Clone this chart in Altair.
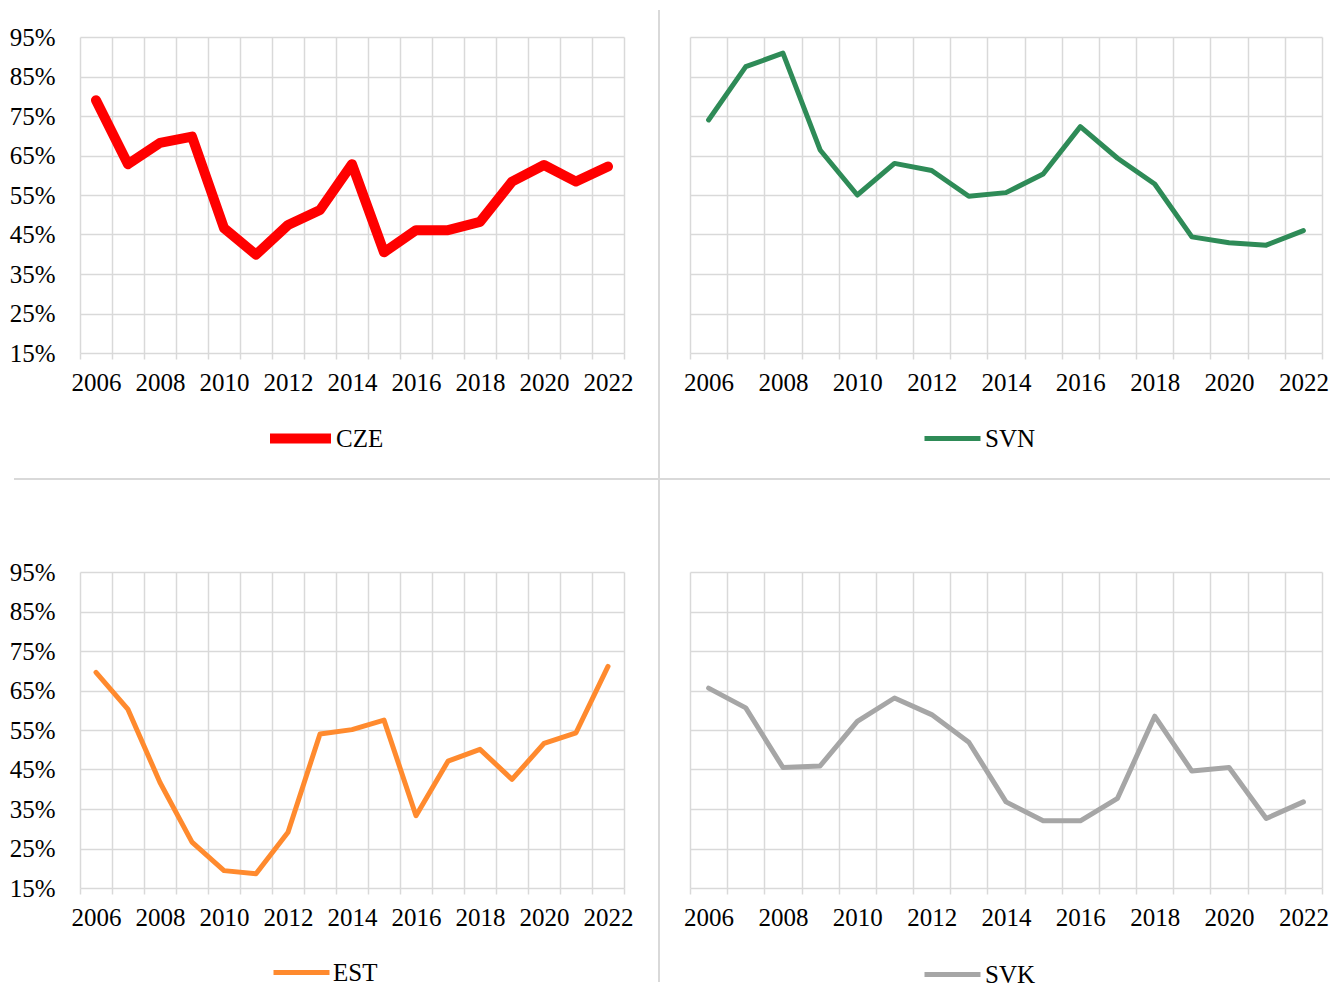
import altair as alt
import pandas as pd

years = list(range(2006, 2023))
cze = [79.0, 62.8, 68.2, 69.8, 46.6, 39.9, 47.4, 51.2, 62.8, 40.5, 46.1, 46.1, 48.2, 58.4, 62.6, 58.4, 62.2]
svn = [74.0, 87.5, 90.9, 66.4, 55.0, 63.0, 61.2, 54.7, 55.6, 60.3, 72.3, 64.3, 57.8, 44.4, 42.9, 42.3, 46.0]
est = [69.6, 60.2, 41.7, 26.6, 19.4, 18.6, 29.1, 54.0, 55.1, 57.5, 33.3, 47.1, 50.1, 42.5, 51.6, 54.3, 71.1]
svk = [65.6, 60.6, 45.5, 45.9, 57.2, 63.1, 58.9, 51.9, 36.8, 32.0, 32.0, 37.7, 58.5, 44.6, 45.5, 32.6, 36.8]
y_ticks = [0.15, 0.25, 0.35, 0.45, 0.55, 0.65, 0.75, 0.85, 0.95]

GRID = "#D9D9D9"
FONT = "Liberation Serif"


def panel(name, vals, color, width, stroke_w, show_y, legend_x, legend_y,
          sym_size, label_off, extra=None):
    df = pd.DataFrame({"year": years, "value": [v / 100 for v in vals], "country": name})
    line = alt.Chart(df).mark_line(
        strokeWidth=stroke_w, strokeCap="round", strokeJoin="round"
    ).encode(
        x=alt.X(
            "year:O",
            scale=alt.Scale(type="band", paddingInner=0, paddingOuter=0),
            axis=alt.Axis(
                title=None, labelAngle=0, tickBand="extent", grid=True,
                labelExpr="datum.value % 2 == 0 ? datum.label : ''",
                labelOverlap=False, domain=False, ticks=True, tickSize=6,
                tickColor=GRID, tickWidth=1.5, labelPadding=11,
            ),
        ),
        y=alt.Y(
            "value:Q",
            scale=alt.Scale(domain=[0.15, 0.95], nice=False, zero=False),
            axis=alt.Axis(
                title=None, values=y_ticks, format=".0%", grid=True, domain=False,
                ticks=False, tickSize=0, labels=show_y, labelPadding=25,
            ),
        ),
        color=alt.Color(
            "country:N",
            scale=alt.Scale(domain=[name], range=[color]),
            legend=alt.Legend(
                title=None, orient="none", legendX=legend_x, legendY=legend_y,
                symbolType="stroke", symbolStrokeWidth=stroke_w, symbolSize=sym_size,
                labelFont=FONT, labelFontSize=25, labelColor="black",
                labelOffset=label_off, padding=0,
            ),
        ),
    ).properties(width=width, height=316)
    if extra is not None:
        return alt.layer(line, *extra)
    return line


sep = alt.Data(values=[{"k": 0}])
vline = alt.Chart(sep).mark_rule(color=GRID, strokeWidth=2).encode(
    x=alt.value(579), y=alt.value(-27), y2=alt.value(945)
)
hline = alt.Chart(sep).mark_rule(color=GRID, strokeWidth=2).encode(
    x=alt.value(-66), x2=alt.value(1250), y=alt.value(442)
)

p1 = panel("CZE", cze, "#FF0000", 544, 10, True, 185, 366, 3721, 0, extra=[vline, hline])
p2 = panel("SVN", svn, "#2E8B57", 632, 5, False, 232, 371, 3136, 2)
p3 = panel("EST", est, "#FF8A2E", 544, 5, True, 191, 370, 3136, 1)
p4 = panel("SVK", svk, "#A6A6A6", 632, 5, False, 232, 372, 3136, 2)

chart = alt.concat(
    p1, p2, p3, p4, columns=2, spacing={"row": 219, "column": 66},
    bounds="flush", align="each",
).resolve_scale(
    color="independent"
).resolve_legend(
    color="independent"
).properties(
    padding={"left": 1, "top": 1, "right": 0, "bottom": 0}
).configure_view(stroke=None).configure_axis(
    gridColor=GRID, gridWidth=1.5, labelFont=FONT, labelFontSize=25,
    labelColor="black",
)

chart.save("out.html", embed_options={"renderer": "svg", "actions": False})
